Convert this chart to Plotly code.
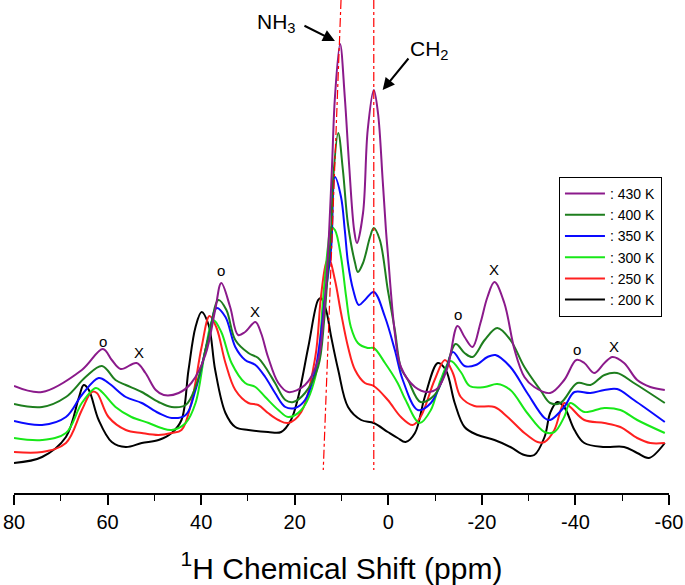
import plotly.graph_objects as go

# ---- data (ppm, intensity in arbitrary units) ----
ppm_430 = [80.0, 74.0, 65.5, 61.0, 59.1, 57.2, 53.8, 51.9, 49.7, 48.0, 44.8, 42.1, 39.1, 37.0, 35.7, 33.8, 32.1, 30.6, 28.4, 27.2, 25.7, 23.5, 21.4, 17.8, 15.0, 13.9, 13.3, 12.7, 12.0, 11.4, 10.3, 9.3, 8.4, 7.3, 6.7, 5.4, 4.4, 3.1, 2.2, 1.2, 0.5, 0.1, -1.4, -2.7, -5.7, -8.4, -10.6, -12.7, -14.8, -16.3, -18.0, -19.7, -21.2, -22.7, -24.8, -27.0, -29.1, -31.2, -34.6, -37.6, -40.2, -41.9, -44.0, -46.2, -47.9, -50.4, -53.2, -56.0, -59.1]
int_430 = [110, 104, 126, 147, 136, 127, 133, 123, 106, 101, 103, 113, 141, 186, 213, 189, 161, 164, 174, 163, 139, 113, 104, 111, 136, 176, 211, 259, 333, 399, 452, 399, 333, 266, 253, 283, 366, 406, 383, 316, 266, 243, 163, 129, 109, 104, 108, 129, 170, 159, 149, 173, 199, 214, 193, 146, 119, 109, 103, 116, 136, 133, 123, 133, 139, 133, 116, 109, 106]

ppm_400 = [80.0, 74.0, 68.9, 64.7, 61.2, 58.3, 56.1, 52.7, 49.1, 46.3, 43.3, 41.2, 38.4, 36.3, 34.6, 32.7, 29.9, 27.8, 26.3, 24.2, 22.0, 20.3, 17.8, 15.0, 13.7, 12.9, 12.2, 11.8, 10.7, 9.7, 8.6, 7.1, 6.5, 5.4, 3.9, 3.1, 1.8, 0.1, -1.4, -2.7, -4.2, -6.9, -9.9, -12.1, -14.4, -16.3, -18.0, -20.6, -23.3, -26.1, -29.1, -32.5, -34.6, -36.8, -40.4, -43.2, -46.2, -48.9, -52.5, -59.1]
int_400 = [92, 89, 99, 119, 130, 116, 111, 104, 94, 89, 91, 109, 159, 196, 186, 156, 143, 138, 129, 113, 96, 94, 103, 129, 176, 226, 266, 316, 363, 326, 271, 233, 224, 233, 259, 268, 256, 206, 166, 128, 116, 94, 101, 123, 152, 143, 139, 156, 168, 156, 129, 106, 93, 93, 113, 111, 121, 123, 113, 93]

ppm_350 = [80.0, 74.0, 68.9, 65.5, 61.9, 59.8, 56.1, 52.7, 49.1, 46.3, 43.3, 41.2, 38.4, 36.7, 34.8, 32.7, 30.6, 28.4, 26.3, 24.2, 22.0, 19.9, 17.8, 15.6, 13.5, 12.2, 11.4, 10.1, 9.3, 8.6, 7.5, 6.3, 5.0, 3.1, 0.7, -1.4, -3.1, -6.3, -9.1, -12.1, -13.8, -16.3, -18.7, -21.2, -22.9, -26.1, -29.7, -33.4, -34.6, -37.6, -39.8, -43.2, -46.2, -48.9, -52.5, -59.1]
int_350 = [75, 71, 79, 101, 118, 113, 99, 93, 83, 78, 81, 106, 159, 188, 179, 149, 136, 131, 119, 103, 89, 88, 96, 126, 199, 249, 319, 299, 266, 233, 206, 191, 196, 204, 179, 146, 116, 86, 93, 123, 144, 130, 131, 139, 141, 129, 103, 78, 76, 89, 104, 103, 106, 107, 96, 74]

ppm_300 = [80.0, 74.0, 68.9, 65.5, 62.5, 61.2, 58.3, 54.9, 51.2, 48.5, 46.3, 43.3, 41.2, 39.1, 37.4, 35.7, 33.5, 30.6, 28.4, 26.3, 23.5, 21.4, 18.6, 15.6, 13.9, 12.9, 12.2, 11.4, 10.1, 9.0, 8.0, 6.5, 4.4, 3.1, 0.7, -2.0, -3.7, -6.7, -9.1, -11.2, -13.3, -15.5, -17.4, -20.6, -23.3, -26.1, -29.7, -33.4, -35.5, -37.6, -38.9, -41.9, -46.2, -49.6, -53.2, -59.1]
int_300 = [58, 56, 63, 93, 108, 104, 89, 79, 73, 68, 66, 73, 93, 146, 176, 164, 133, 113, 109, 99, 86, 79, 86, 119, 199, 249, 269, 266, 239, 199, 169, 153, 148, 148, 133, 113, 96, 73, 86, 116, 135, 124, 110, 109, 112, 106, 83, 64, 64, 79, 93, 84, 88, 86, 76, 63]

ppm_250 = [80.0, 74.0, 68.9, 65.5, 63.4, 62.3, 59.8, 56.1, 52.7, 49.1, 46.3, 44.2, 42.1, 39.9, 38.2, 36.7, 34.8, 32.7, 29.9, 27.8, 25.7, 23.5, 21.4, 18.6, 15.6, 14.4, 13.3, 12.7, 11.4, 10.1, 8.6, 7.1, 5.0, 3.1, 0.1, -2.7, -5.2, -6.9, -9.9, -12.1, -13.8, -15.5, -18.4, -22.7, -25.5, -29.1, -31.9, -33.4, -35.5, -37.6, -38.9, -41.9, -46.2, -49.6, -53.2, -56.0, -59.1]
int_250 = [44, 44, 53, 86, 104, 103, 79, 66, 63, 61, 63, 66, 93, 149, 180, 168, 133, 106, 93, 91, 83, 76, 73, 84, 139, 199, 233, 238, 216, 183, 149, 126, 113, 110, 96, 79, 71, 79, 116, 136, 123, 99, 90, 89, 79, 63, 54, 54, 66, 93, 89, 76, 73, 69, 58, 53, 53]

ppm_200 = [80.0, 74.0, 68.9, 66.1, 65.1, 64.0, 61.9, 59.1, 56.1, 52.7, 49.1, 46.3, 44.2, 42.7, 41.2, 39.9, 38.4, 37.0, 34.8, 32.7, 29.9, 25.7, 22.9, 20.8, 19.3, 17.1, 15.0, 14.4, 13.3, 12.2, 10.7, 8.6, 5.8, 3.1, 0.1, -2.0, -3.7, -5.7, -7.8, -10.6, -12.3, -14.2, -16.3, -19.1, -22.7, -26.1, -29.1, -31.2, -33.4, -34.6, -36.1, -37.6, -39.8, -41.9, -46.2, -50.4, -53.2, -55.7, -59.1]
int_200 = [33, 39, 59, 99, 111, 106, 76, 54, 49, 53, 56, 63, 76, 126, 169, 184, 171, 126, 83, 69, 66, 64, 64, 76, 98, 149, 196, 198, 186, 159, 126, 89, 76, 73, 64, 58, 54, 63, 99, 133, 126, 93, 69, 61, 56, 49, 41, 41, 59, 83, 94, 89, 66, 53, 49, 49, 43, 38, 53]

series_names = [": 200 K", ": 250 K", ": 300 K", ": 350 K", ": 400 K", ": 430 K"]
series_colors = ["#000000", "#ff2020", "#18e818", "#0a0aff", "#1e7e1e", "#8b1a8b"]

tick_vals = [80, 60, 40, 20, 0, -20, -40, -60]
tick_text = ["80", "60", "40", "20", "0", "-20", "-40", "-60"]

label_text = ["o", "X", "o", "X", "o", "X", "o", "X"]
label_ppm = [61.0, 53.2, 35.7, 28.4, -15.0, -22.7, -40.4, -48.3]
label_int = [155, 144, 226, 185, 182, 227, 147, 150]

# guide lines (dash-dot): ppm at top / bottom, intensity at top / bottom
guide_ppm_top = [10.1, 3.1]
guide_ppm_bottom = [13.9, 3.1]
guide_int_top = 496
guide_int_bottom = 26

# peak annotations
peak_labels = ["NH<sub>3</sub>", "CH<sub>2</sub>"]
peak_label_ppm = [24.0, -8.9]
peak_label_int = [473, 446]
arrow_head_ppm = [11.4, 1.2]
arrow_head_int = [455, 406]
arrow_tail_dx = [-32, 27]
arrow_tail_dy = [-16, -33]

xs = [ppm_200, ppm_250, ppm_300, ppm_350, ppm_400, ppm_430]
ys = [int_200, int_250, int_300, int_350, int_400, int_430]

FONT = "Arial, 'Liberation Sans', sans-serif"

fig = go.Figure()
for x, y, name, col in zip(xs, ys, series_names, series_colors):
    fig.add_trace(go.Scatter(
        x=x, y=y, mode="lines", name=name,
        line=dict(color=col, width=2, shape="spline", smoothing=1.0),
    ))

for t, px_, py_ in zip(label_text, label_ppm, label_int):
    fig.add_annotation(x=px_, y=py_, text=t, showarrow=False,
                       font=dict(family=FONT, size=15, color="black"))

for lab, lx, ly in zip(peak_labels, peak_label_ppm, peak_label_int):
    fig.add_annotation(x=lx, y=ly, text=lab, showarrow=False,
                       font=dict(family=FONT, size=21, color="black"))

for hx, hy, dx, dy in zip(arrow_head_ppm, arrow_head_int, arrow_tail_dx, arrow_tail_dy):
    fig.add_annotation(x=hx, y=hy, text="", showarrow=True, ax=dx, ay=dy,
                       arrowhead=2, arrowsize=1.2, arrowwidth=2, arrowcolor="black",
                       standoff=0, startstandoff=0)

for xt, xb in zip(guide_ppm_top, guide_ppm_bottom):
    fig.add_shape(type="line", x0=xt, y0=guide_int_top, x1=xb, y1=guide_int_bottom,
                  xref="x", yref="y", line=dict(color="red", width=1.2, dash="dashdot"))

fig.update_layout(
    width=685, height=585,
    margin=dict(l=14, r=16, t=0, b=92),
    paper_bgcolor="white", plot_bgcolor="white",
    font=dict(family=FONT, color="black"),
    showlegend=True,
    legend=dict(
        x=0.832, y=0.641, xanchor="left", yanchor="top",
        traceorder="reversed",
        bgcolor="white", bordercolor="black", borderwidth=1,
        font=dict(family=FONT, size=14, color="black"),
        itemwidth=40,
    ),
    xaxis=dict(
        range=[80, -60], showgrid=False, zeroline=False, automargin=False,
        showline=True, linecolor="black", linewidth=1.5,
        ticks="outside", ticklen=10, tickwidth=1.5, tickcolor="black",
        tickvals=tick_vals, ticktext=tick_text,
        tickfont=dict(family=FONT, size=20, color="black"),
        minor=dict(ticks="outside", ticklen=6, tickwidth=1.2, tickcolor="black", dtick=10),
        title=dict(text="<sup>1</sup>H Chemical Shift (ppm)",
                   font=dict(family=FONT, size=30, color="black"), standoff=26),
    ),
    yaxis=dict(range=[3, 496], visible=False, showgrid=False, zeroline=False),
)

fig.write_html("out.html",
               config={"displayModeBar": False},
               post_script="document.body.style.margin='0px';document.body.style.overflow='hidden';")
